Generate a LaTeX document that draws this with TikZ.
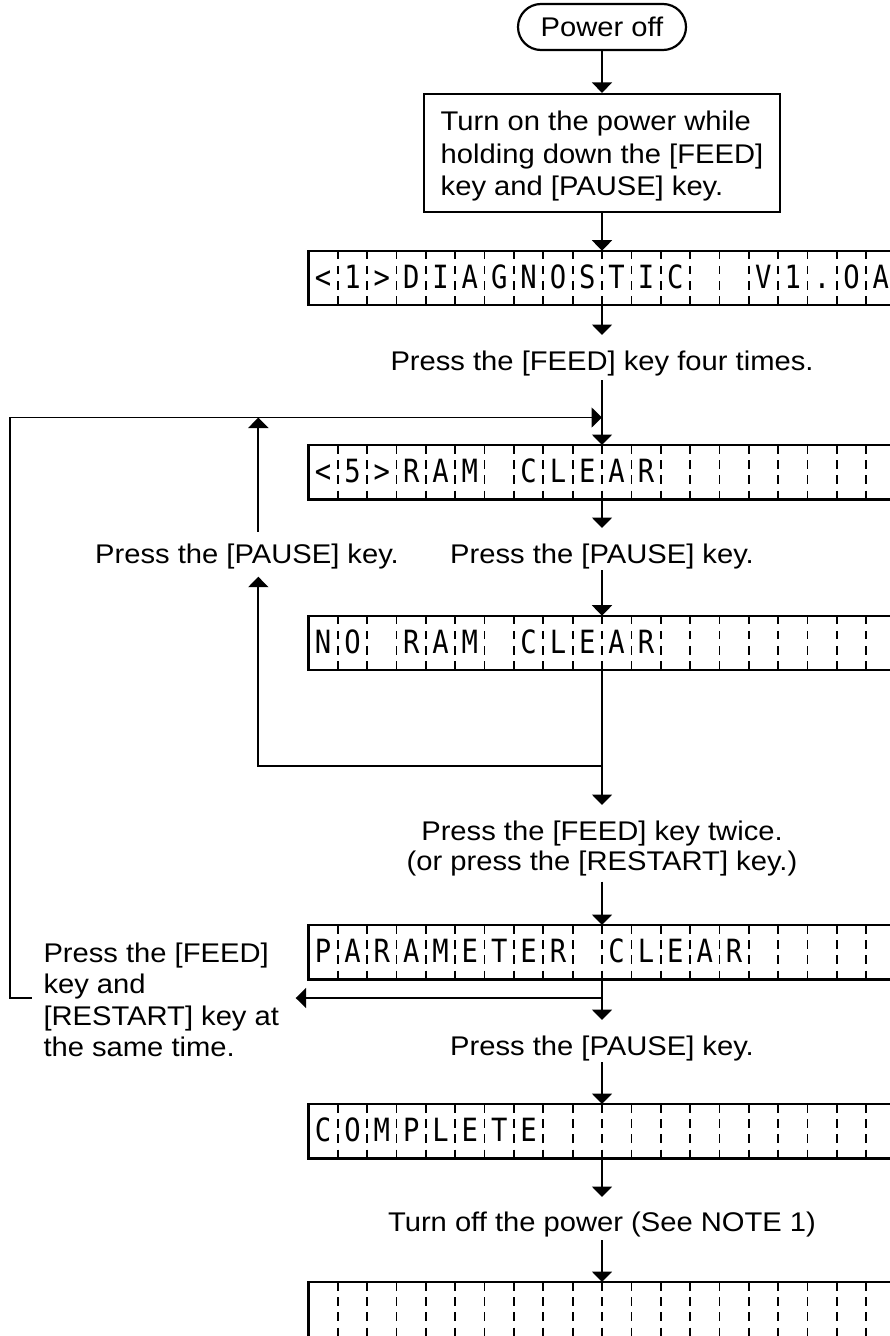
\documentclass[tikz,border=0pt]{standalone}
\usepackage{fontspec}
\setmainfont{Liberation Sans}
\newfontfamily\labf[FakeStretch=1.08]{Liberation Sans}
\newfontfamily\lcdf[FakeStretch=0.85]{DejaVu Sans Mono}
\usetikzlibrary{arrows.meta,calc}
\newcommand\lcdgrid[1]{\foreach \k in {1,...,19}{\draw[lcddash] ($(#1.north west)+(\k*29.35,0)$) -- ($(#1.south west)+(\k*29.35,0)$);}}
\newcommand\lcdchars[2]{\foreach \lc [count=\k from 0] in {#2}{\node[lcdch] at ($(#1.north west)+(\k*29.35+14.675,37.6)$) {\lc};}}
\begin{document}
\begin{tikzpicture}[x=1pt,y=-1pt,
  lab/.style={font=\labf\fontsize{27}{32.5}\selectfont, inner sep=0pt},
  labb/.style={font=\labf\fontsize{27}{30}\selectfont, inner sep=0pt},
  labc/.style={font=\labf\fontsize{27}{31.3}\selectfont, inner sep=0pt},
  arr/.style={line width=1.9pt, -{Triangle[length=10.5pt,width=20pt]}},
  lcd/.style={draw, line width=2.2pt, rectangle, minimum width=587pt, minimum height=54.5pt, inner sep=0pt, outer sep=0pt},
  lcdch/.style={font=\lcdf\fontsize{32}{32}\selectfont, inner sep=0pt, anchor=base},
  lcddash/.style={line width=1.7pt, dash pattern=on 8.5pt off 6.7pt},
]
\useasboundingbox (0,0) rectangle (890,1336);

% start
\node[draw, line width=2.2pt, rounded corners=23pt, minimum width=168pt, minimum height=46pt, inner sep=0pt, font=\labf\fontsize{27}{32}\selectfont] (pwr) at (602,27) {Power off};
\node[draw, line width=2.2pt, minimum width=356pt, minimum height=118pt, inner sep=0pt, align=left, lab] (box) at (602,153) {\rule{0pt}{26pt}Turn on the power while\\holding down the [FEED]\\key and [PAUSE] key.};

% LCDs
\node[lcd] (lcd1) at (602,277.95) {};
\node[lcd] (lcd2) at (602,472.25) {};
\node[lcd] (lcd3) at (602,642.95) {};
\node[lcd] (lcd4) at (602,952.25) {};
\node[lcd] (lcd5) at (602,1131.25) {};
\node[lcd, minimum height=56pt] (lcd6) at (602,1310) {};
\lcdgrid{lcd1}\lcdgrid{lcd2}\lcdgrid{lcd3}\lcdgrid{lcd4}\lcdgrid{lcd5}\lcdgrid{lcd6}
\lcdchars{lcd1}{<,1,>,D,I,A,G,N,O,S,T,I,C,{},{},V,1,.,O,A}
\lcdchars{lcd2}{<,5,>,R,A,M,{},C,L,E,A,R}
\lcdchars{lcd3}{N,O,{},R,A,M,{},C,L,E,A,R}
\lcdchars{lcd4}{P,A,R,A,M,E,T,E,R,{},C,L,E,A,R}
\lcdchars{lcd5}{C,O,M,P,L,E,T,E}

% main flow
\draw[arr] (pwr) -- (box);
\draw[arr] (box) -- (lcd1);
\coordinate (a1) at (602,335);
\draw[arr] (lcd1) -- (a1);
\node[lab, anchor=base] (t1) at (602,370) {Press the [FEED] key four times.};
\coordinate (b1) at (602,380);
\draw[arr] (b1) -- (lcd2);
\coordinate (m1) at (602,417.5);
\coordinate (a2) at (602,528);
\draw[arr] (lcd2) -- (a2);
\node[lab, anchor=base] (t2) at (602,563.5) {Press the [PAUSE] key.};
\coordinate (b2) at (602,570);
\draw[arr] (b2) -- (lcd3);
\coordinate (a3) at (602,805);
\draw[arr] (lcd3) -- (a3);

% pause loop back
\coordinate (j1) at (602,766);
\coordinate (c1) at (258.3,766);
\coordinate (u1) at (258.3,576.7);
\draw[arr] (j1) -- (c1) -- (u1);
\node[lab, anchor=base west] (tl) at (95,563.5) {Press the [PAUSE] key.};
\coordinate (u2) at (258.3,531.7);
\coordinate (u3) at (258.3,417.5);
\draw[arr] (u2) -- (u3);

\node[labb, align=center, anchor=base] (t3) at (602,870) {Press the [FEED] key twice.\\(or press the [RESTART] key.)};
\coordinate (b3) at (602,881.7);
\draw[arr] (b3) -- (lcd4);
\coordinate (a4) at (602,1020);
\draw[arr] (lcd4) -- (a4);

% feed+restart loop
\coordinate (j2) at (602,998);
\coordinate (l1) at (295.7,998);
\draw[arr] (j2) -- (l1);
\node[labc, align=left, anchor=base west] (t4) at (43.3,1056.5) {Press the [FEED]\\key and\\{}[RESTART] key at\\the same time.};
\coordinate (r0) at (31.7,998);
\coordinate (r1) at (10,998);
\coordinate (r2) at (10,417.5);
\draw[arr] (r0) -- (r1) -- (r2) -- (m1);

\node[lab, anchor=base] (t5) at (602,1055) {Press the [PAUSE] key.};
\coordinate (b5) at (602,1062);
\draw[arr] (b5) -- (lcd5);
\coordinate (a5) at (602,1197);
\draw[arr] (lcd5) -- (a5);
\node[lab, anchor=base] (t6) at (602,1231) {Turn off the power (See NOTE 1)};
\coordinate (b6) at (602,1240);
\draw[arr] (b6) -- (lcd6);
\end{tikzpicture}
\end{document}
